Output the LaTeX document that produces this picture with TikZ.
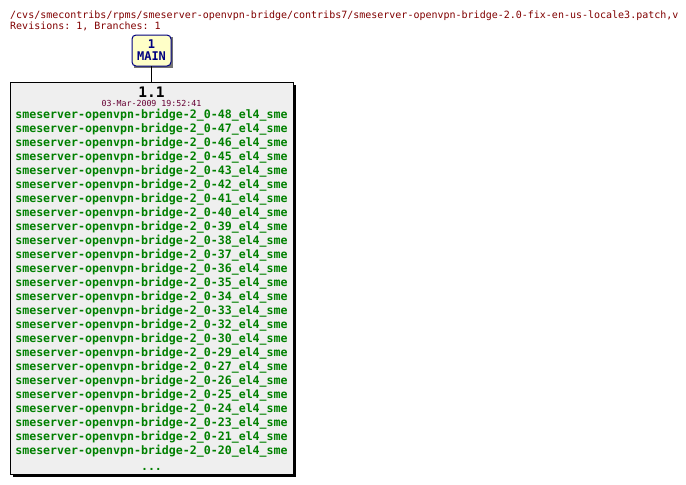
\documentclass[tikz,border=0pt]{standalone}
\usepackage{fontspec}
\setmonofont{DejaVu Sans Mono}
\definecolor{hdr}{HTML}{800000}
\definecolor{tagg}{HTML}{008000}
\definecolor{datec}{HTML}{660033}
\definecolor{boxfill}{HTML}{EFEFEF}
\definecolor{brfill}{HTML}{FFFFC8}
\definecolor{brtext}{HTML}{000080}
\begin{document}
\begin{tikzpicture}[x=1pt,y=-1pt,
  hdrtext/.style={anchor=base west,inner sep=0,text=hdr,font=\ttfamily\fontsize{10}{12}\selectfont},
  tagtext/.style={anchor=base,inner sep=0,text=tagg,font=\ttfamily\bfseries\fontsize{11.6}{13}\selectfont},
  revbox/.style={draw=black,line width=1pt,fill=boxfill},
  brbox/.style={draw=brtext,line width=1pt,fill=brfill,rounded corners=4pt}]
\useasboundingbox (0,0) rectangle (686,485);
\node[hdrtext] (h1) at (10,18) {/cvs/smecontribs/rpms/smeserver-openvpn-bridge/contribs7/smeserver-openvpn-bridge-2.0-fix-en-us-locale3.patch,v};
\node[hdrtext] (h2) at (10,29) {Revisions: 1, Branches: 1};
% branch box
\fill[black!55] (134,37) rectangle (173,68);
\draw[brbox] (132,35) rectangle (171,66);
\coordinate (brbot) at (151.5,66);
\node[anchor=base,inner sep=0,text=brtext,font=\ttfamily\bfseries\fontsize{12}{14}\selectfont] (b1) at (151.5,48.5) {1};
\node[anchor=base,inner sep=0,text=brtext,font=\ttfamily\bfseries\fontsize{12}{14}\selectfont] (b2) at (151.5,60) {MAIN};
% revision box
\fill[black] (13,85) rectangle (296,477);
\draw[revbox] (10,82) rectangle (293,474);
\coordinate (revtop) at (151.5,82);
\draw[black,line width=1pt] (brbot) -- (revtop);
\node[anchor=base,inner sep=0,font=\ttfamily\bfseries\fontsize{14.5}{16}\selectfont] (rev) at (151.5,97) {1.1};
\node[anchor=base,inner sep=0,text=datec,font=\ttfamily\fontsize{8.3}{10}\selectfont] (date) at (151.5,106.5) {03-Mar-2009 19:52:41};
\foreach \n [count=\i from 0] in {48,47,46,45,43,42,41,40,39,38,37,36,35,34,33,32,30,29,27,26,25,24,23,21,20}{
  \node[tagtext] (t\n) at (151.5,118.5+14*\i) {smeserver-openvpn-bridge-2\_0-\n\_el4\_sme};
}
\node[tagtext] (dots) at (151.5,470) {...};
\end{tikzpicture}
\end{document}
